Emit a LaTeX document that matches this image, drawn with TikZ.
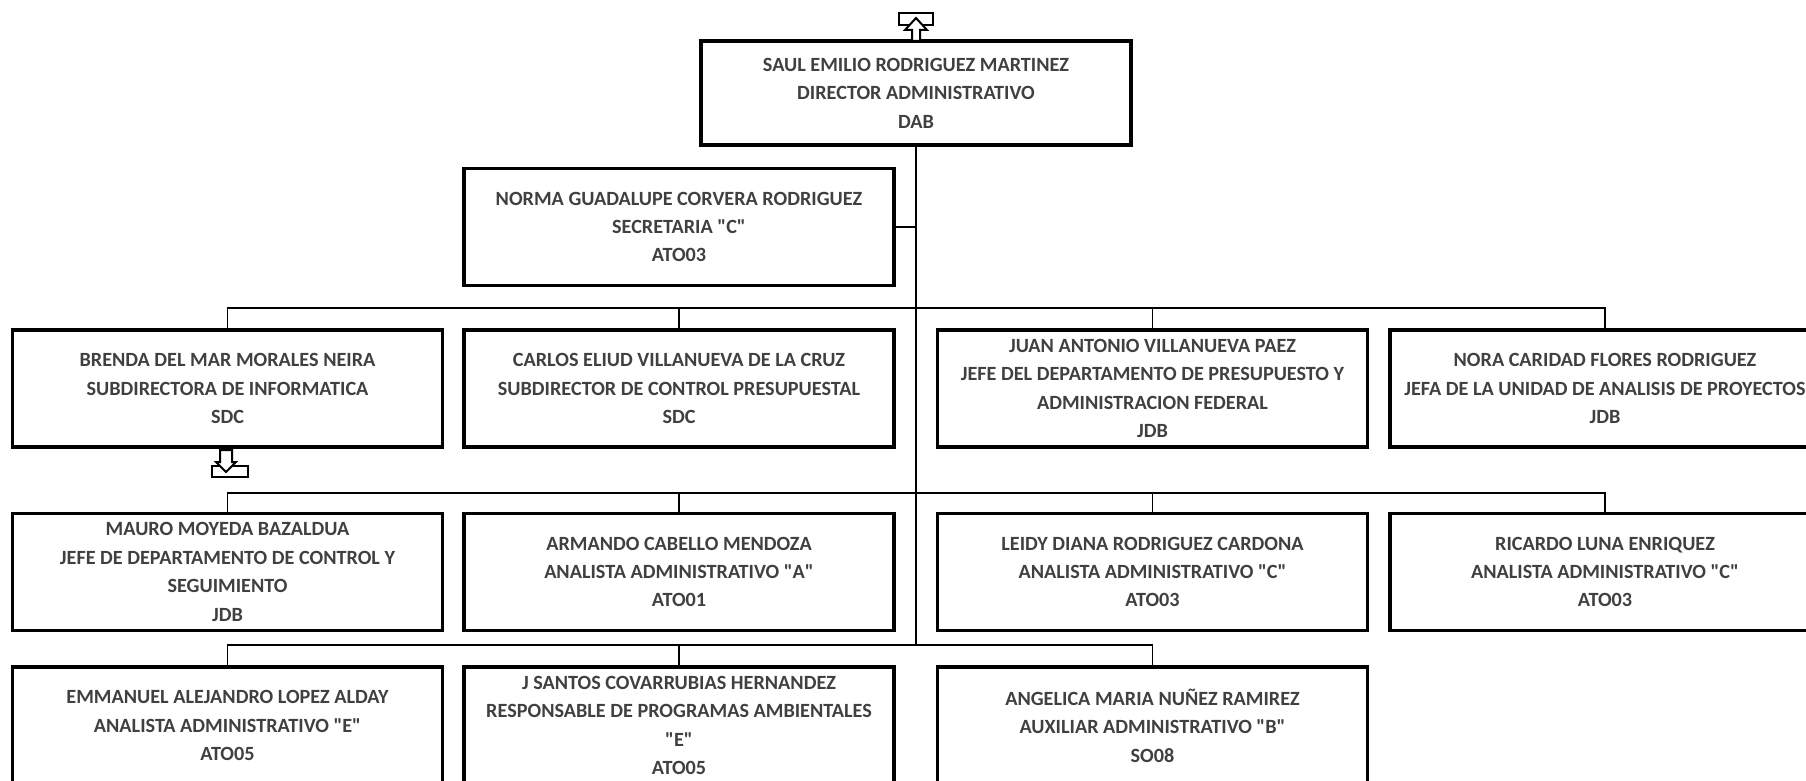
\documentclass[tikz,border=0pt]{standalone}
\usepackage{fontspec}
\setmainfont{Carlito}[Ligatures=TeXOff]
\usepackage{tikz}
\usetikzlibrary{positioning}
\definecolor{txtgray}{RGB}{64,64,64}

\begin{document}
\begin{tikzpicture}[x=0.5pt,y=-0.5pt,
    puesto/.style={draw, line width=1.8pt, minimum width=215pt, minimum height=58.5pt,
        inner sep=0pt, align=center, text=txtgray, font=\fontsize{10.1}{14.2}\selectfont\bfseries},
    linea/.style={line width=0.9pt},
    icono/.style={line width=1pt}]
    \useasboundingbox (0,0) rectangle (1806,781);
    \clip (0,0) rectangle (1806,781);

    \node[puesto, minimum height=52pt] (dir) at (916,93) {SAUL EMILIO RODRIGUEZ MARTINEZ\\DIRECTOR ADMINISTRATIVO\\DAB};
    \node[puesto] (sec) at (679,227) {NORMA GUADALUPE CORVERA RODRIGUEZ\\SECRETARIA "C"\\ATO03};

    \node[puesto] (sub1) at (227.5,388.5) {BRENDA DEL MAR MORALES NEIRA\\SUBDIRECTORA DE INFORMATICA\\SDC};
    \node[puesto] (sub2) at (679,388.5) {CARLOS ELIUD VILLANUEVA DE LA CRUZ\\SUBDIRECTOR DE CONTROL PRESUPUESTAL\\SDC};
    \node[puesto] (jefe1) at (1152.5,388.5) {JUAN ANTONIO VILLANUEVA PAEZ\\JEFE DEL DEPARTAMENTO DE PRESUPUESTO Y\\ADMINISTRACION FEDERAL\\JDB};
    \node[puesto] (jefe2) at (1605,388.5) {NORA CARIDAD FLORES RODRIGUEZ\\JEFA DE LA UNIDAD DE ANALISIS DE PROYECTOS\\JDB};

    \node[puesto] (jefe3) at (227.5,572) {MAURO MOYEDA BAZALDUA\\JEFE DE DEPARTAMENTO DE CONTROL Y\\SEGUIMIENTO\\JDB};
    \node[puesto] (an1) at (679,572) {ARMANDO CABELLO MENDOZA\\ANALISTA ADMINISTRATIVO "A"\\ATO01};
    \node[puesto] (an2) at (1152.5,572) {LEIDY DIANA RODRIGUEZ CARDONA\\ANALISTA ADMINISTRATIVO "C"\\ATO03};
    \node[puesto] (an3) at (1605,572) {RICARDO LUNA ENRIQUEZ\\ANALISTA ADMINISTRATIVO "C"\\ATO03};

    \node[puesto] (an4) at (227.5,725.5) {EMMANUEL ALEJANDRO LOPEZ ALDAY\\ANALISTA ADMINISTRATIVO "E"\\ATO05};
    \node[puesto] (resp) at (679,725.5) {J SANTOS COVARRUBIAS HERNANDEZ\\RESPONSABLE DE PROGRAMAS AMBIENTALES\\"E"\\ATO05};
    \node[puesto] (aux) at (1152.5,725.5) {ANGELICA MARIA NUÑEZ RAMIREZ\\AUXILIAR ADMINISTRATIVO "B"\\SO08};

    \coordinate (bus1) at (916,308);
    \coordinate (bus2) at (916,493);
    \coordinate (bus3) at (916,645);
    \draw[linea] (dir.south) -- (bus3);
    \draw[linea] (sec.east) -- (sec.east -| dir.south);
    \draw[linea] (sub1.north) |- (jefe2.north |- bus1) -- (jefe2.north);
    \foreach \n in {sub2,jefe1} \draw[linea] (\n.north) -- (\n.north |- bus1);
    \draw[linea] (jefe3.north) |- (an3.north |- bus2) -- (an3.north);
    \foreach \n in {an1,an2} \draw[linea] (\n.north) -- (\n.north |- bus2);
    \draw[linea] (an4.north) |- (aux.north |- bus3) -- (aux.north);
    \draw[linea] (resp.north) -- (resp.north |- bus3);

    \draw[icono] (899,13) rectangle (933,25);
    \draw[icono, fill=white] (912,41) -- (912,30) -- (905,30) -- (916,18) -- (927,30) -- (920,30) -- (920,41) -- cycle;
    \draw[icono] (212,466) rectangle (248,477);
    \draw[icono, fill=white] (220,450) -- (220,462) -- (216,462) -- (226,472) -- (236,462) -- (232,462) -- (232,450) -- cycle;
\end{tikzpicture}
\end{document}
